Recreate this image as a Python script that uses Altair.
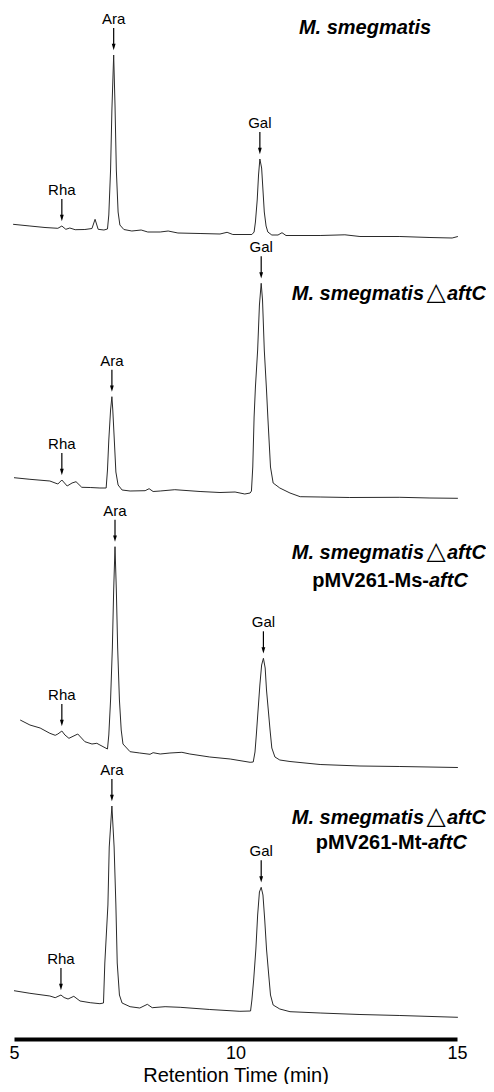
import altair as alt
import pandas as pd

# ---------------- data ----------------
# retention time (min) and detector signal (arbitrary units) for each strain
trace_names = [
    "M. smegmatis",
    "M. smegmatis dAftC",
    "M. smegmatis dAftC pMV261-Ms-aftC",
    "M. smegmatis dAftC pMV261-Mt-aftC",
]

t1_time = [4.98, 5.36, 5.70, 5.99, 6.08, 6.17, 6.26, 6.38, 6.60, 6.76, 6.83, 6.90, 7.03, 7.11,
           7.14, 7.18, 7.21, 7.25, 7.28, 7.31, 7.35, 7.39, 7.48, 7.66, 7.87, 8.02, 8.30, 8.48,
           8.70, 9.20, 9.65, 9.81, 9.94, 10.37, 10.42, 10.45, 10.49, 10.52, 10.55, 10.59, 10.62,
           10.65, 10.69, 10.73, 10.82, 10.96, 11.05, 11.14, 11.91, 12.47, 12.81, 13.71, 14.39,
           14.89, 15.02]
t1_signal = [13.7, 12, 10.5, 9.7, 12, 8.7, 10, 8.3, 8.5, 9.5, 18.7, 8.7, 8, 9,
             23, 68, 128, 183, 133, 68, 26, 13, 8.5, 7, 8, 6, 6, 7,
             5, 4.5, 4, 5.7, 3.5, 3.5, 6, 16, 38, 63, 79, 70, 48,
             26, 12, 6, 3, 3, 5.3, 2.5, 2.5, 3.2, 1.5, 1.5, 0.5,
             0, 1.5]

t2_time = [5.00, 5.36, 5.81, 5.99, 6.08, 6.20, 6.31, 6.40, 6.53, 6.72, 6.94, 7.08, 7.11, 7.14,
           7.18, 7.21, 7.23, 7.27, 7.30, 7.35, 7.44, 7.62, 7.96, 8.05, 8.14, 8.30, 8.63, 9.20,
           9.65, 9.99, 10.21, 10.33, 10.36, 10.39, 10.42, 10.45, 10.50, 10.54, 10.58, 10.61,
           10.65, 10.70, 10.73, 10.79, 10.85, 11.00, 11.23, 11.46, 11.91, 12.58, 13.71, 14.39,
           15.02]
t2_signal = [20.3, 18.7, 17, 14, 18, 12, 15, 16.3, 10.7, 10.5, 10, 10, 28, 58,
             88, 101.3, 88, 53, 26, 13, 8, 7, 7.3, 9.3, 6.5, 7, 8.3, 6.5,
             5.5, 6, 4, 5, 7, 31, 81, 111, 148, 193, 214.7, 198,
             148, 108, 81, 31, 15, 10, 5, 1.3, 1, 0.5, 0.7, 0,
             -0.3]

t3_time = [5.14, 5.36, 5.59, 5.81, 5.93, 5.99, 6.08, 6.15, 6.24, 6.44, 6.60, 6.76, 6.87, 6.94,
           7.11, 7.14, 7.18, 7.22, 7.25, 7.28, 7.31, 7.34, 7.38, 7.42, 7.46, 7.62, 7.84, 8.07,
           8.14, 8.30, 8.52, 8.79, 8.97, 9.42, 9.88, 10.33, 10.40, 10.44, 10.47, 10.51, 10.55,
           10.59, 10.63, 10.67, 10.70, 10.74, 10.78, 10.82, 10.89, 11.00, 11.23, 11.91, 12.81,
           13.71, 15.02]
t3_signal = [48, 43, 40, 34.7, 32.7, 34, 37, 33, 29.7, 34, 26.3, 24, 24.7, 23,
             19, 33, 68, 120, 178, 221.3, 178, 120, 68, 38, 24, 16.3, 15, 13.7,
             15.3, 14, 15, 15.7, 14, 11, 9, 5.7, 6, 16, 33, 58, 83,
             103, 109.7, 100, 78, 58, 38, 20, 11, 8, 6.5, 3.5, 2,
             1.5, 0.5]

t4_time = [5.00, 5.36, 5.81, 5.93, 6.06, 6.13, 6.22, 6.35, 6.49, 6.72, 6.94, 7.02, 7.05, 7.12,
           7.15, 7.21, 7.26, 7.30, 7.33, 7.38, 7.44, 7.62, 7.84, 8.01, 8.12, 8.41, 8.75, 9.42,
           10.10, 10.34, 10.37, 10.41, 10.46, 10.50, 10.54, 10.58, 10.62, 10.66, 10.70, 10.75,
           10.79, 10.85, 11.00, 11.23, 11.91, 12.81, 13.71, 15.02]
t4_signal = [27.3, 24.7, 22, 20.3, 23, 20.5, 19, 21.7, 17, 15.3, 14.3, 15, 55, 113,
             171, 212, 171, 113, 55, 23, 15, 11.3, 10, 13.7, 10.3, 11.3, 10.7, 8.5,
             6.7, 7, 18, 38, 69, 103, 126, 130.7, 123, 98, 69, 43,
             23, 13, 9, 6.3, 5, 3.5, 2.5, 0.7]

peak_names = ["Rha", "Ara", "Gal"]
peak_times = [
    [6.08, 7.25, 10.55],
    [6.08, 7.21, 10.58],
    [6.08, 7.28, 10.63],
    [6.06, 7.21, 10.58],
]
tick_values = [5, 10, 15]

# ---------------- layout ----------------
PLOT_W, PLOT_H = 443, 1031
trace_offsets = [801, 541, 271, 21]   # vertical stacking of the four traces
LBL_FONT = "Liberation Sans"

times = [t1_time, t2_time, t3_time, t4_time]
signals = [t1_signal, t2_signal, t3_signal, t4_signal]

rows = []
for i, (ts, ss) in enumerate(zip(times, signals)):
    for t, s in zip(ts, ss):
        rows.append({"trace": trace_names[i], "time": t, "signal": s, "offset": trace_offsets[i]})
df = pd.DataFrame(rows)

lab_rows = []
for i, pts in enumerate(peak_times):
    ts, ss = times[i], signals[i]
    for name, pt in zip(peak_names, pts):
        j = min(range(len(ts)), key=lambda k: abs(ts[k] - pt))
        lab_rows.append({"trace": trace_names[i], "name": name, "time": ts[j],
                         "signal": ss[j], "offset": trace_offsets[i]})
labs = pd.DataFrame(lab_rows)

# strain names (annotation text positioned in pixels of the plot area)
ann = pd.DataFrame([
    {"text": "M. smegmatis", "px": 351, "py": 26, "kind": "ci"},
    {"text": "M. smegmatis", "px": 410, "py": 292, "kind": "ri"},
    {"text": "\u25b3", "px": 422, "py": 292, "kind": "cn"},
    {"text": "aftC", "px": 433, "py": 292, "kind": "li"},
    {"text": "M. smegmatis", "px": 410, "py": 551, "kind": "ri"},
    {"text": "\u25b3", "px": 422, "py": 551, "kind": "cn"},
    {"text": "aftC", "px": 433, "py": 551, "kind": "li"},
    {"text": "pMV261-Ms-", "px": 415, "py": 579, "kind": "rn"},
    {"text": "aftC", "px": 415, "py": 579, "kind": "li"},
    {"text": "M. smegmatis", "px": 410, "py": 816, "kind": "ri"},
    {"text": "\u25b3", "px": 422, "py": 816, "kind": "cn"},
    {"text": "aftC", "px": 433, "py": 816, "kind": "li"},
    {"text": "pMV261-Mt-", "px": 414, "py": 841, "kind": "rn"},
    {"text": "aftC", "px": 414, "py": 841, "kind": "li"},
])

x_enc = alt.X(
    "time:Q",
    scale=alt.Scale(domain=[5, 15], nice=False, zero=False),
    axis=alt.Axis(values=tick_values, title="Retention Time (min)", grid=False, ticks=False,
                  tickSize=0, domainWidth=4, domainColor="black", labelFontSize=18,
                  labelFont=LBL_FONT, labelColor="black", labelPadding=19,
                  labelBaseline="alphabetic", labelFlush=False,
                  labelOverlap=False, titleFontSize=20, titleFont=LBL_FONT,
                  titleFontWeight="normal", titleColor="black", titleY=42,
                  titleBaseline="alphabetic"),
)
y_enc = alt.Y("level:Q", scale=alt.Scale(domain=[0, PLOT_H], nice=False, zero=False), axis=None)

lines = alt.Chart(df).transform_calculate(level="datum.signal + datum.offset").mark_line(
    color="#2a2a2a", strokeWidth=1
).encode(x=x_enc, y=y_enc, detail="trace:N", order="time:Q")

lab_base = alt.Chart(labs).transform_calculate(level="datum.signal + datum.offset")
lab_text = lab_base.mark_text(font=LBL_FONT, fontSize=15, color="black", dy=-31,
                              baseline="alphabetic", align="center").encode(
    x=alt.X("time:Q"), y=alt.Y("level:Q"), text="name:N")
lab_rule = lab_base.mark_rule(color="black", strokeWidth=1.2, yOffset=-27, y2Offset=-9).encode(
    x=alt.X("time:Q"), y=alt.Y("level:Q"), y2=alt.Y2("level:Q"))
lab_head = lab_base.mark_point(shape="M-0.6,-1L0.6,-1L0,1Z", filled=True, size=40,
                               color="black", opacity=1, yOffset=-8).encode(
    x=alt.X("time:Q"), y=alt.Y("level:Q"))

def ann_layer(kind, align, style, weight, font=LBL_FONT, size=20):
    return alt.Chart(ann).transform_filter(alt.datum.kind == kind).mark_text(
        font=font, fontSize=size, fontStyle=style, fontWeight=weight, color="black",
        align=align, baseline="alphabetic").encode(
        x=alt.X("px:Q", scale=None), y=alt.Y("py:Q", scale=None), text="text:N")

anns = [
    ann_layer("ci", "center", "italic", "bold"),
    ann_layer("ri", "right", "italic", "bold"),
    ann_layer("cn", "center", "normal", "normal", font="DejaVu Sans", size=25),
    ann_layer("li", "left", "italic", "bold"),
    ann_layer("rn", "right", "normal", "bold"),
]

chart = alt.layer(lines, lab_rule, lab_head, lab_text, *anns).properties(
    width=PLOT_W, height=PLOT_H,
    autosize=alt.AutoSizeParams(type="none"),
    padding={"left": 6, "top": 0, "right": 29, "bottom": 45},
).configure_view(stroke=None)

chart.save("out.html", embed_options={"renderer": "svg", "actions": False})
